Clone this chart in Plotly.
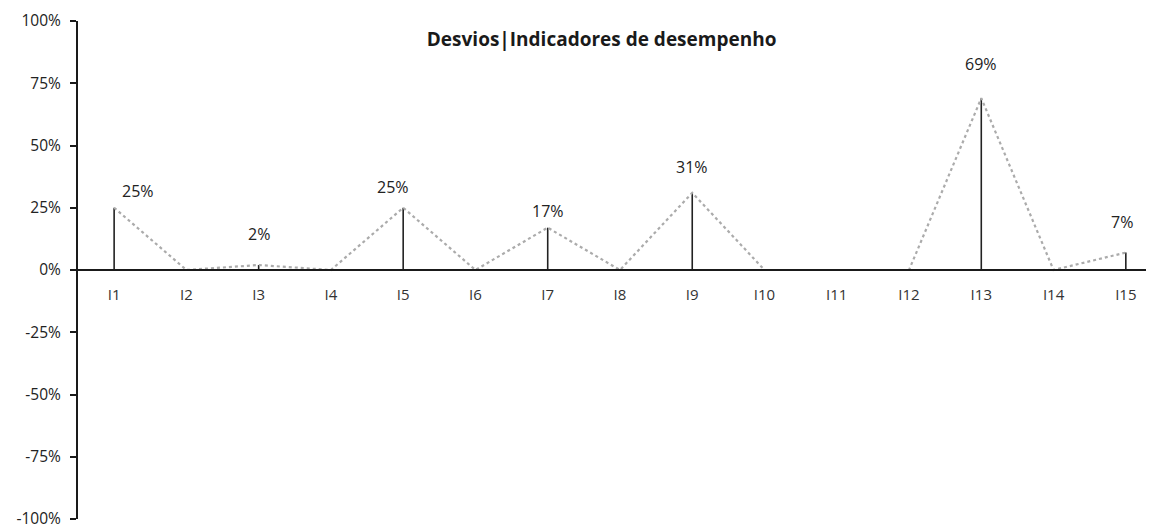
import plotly.graph_objects as go

categories = ["I1", "I2", "I3", "I4", "I5", "I6", "I7", "I8", "I9", "I10",
              "I11", "I12", "I13", "I14", "I15"]
values = [0.25, 0.0, 0.02, 0.0, 0.25, 0.0, 0.17, 0.0, 0.31, 0.0,
          0.0, 0.0, 0.69, 0.0, 0.07]
y_ticks = [-1.0, -0.75, -0.5, -0.25, 0.0, 0.25, 0.5, 0.75, 1.0]
y_tick_labels = ["-100%", "-75%", "-50%", "-25%", "0%", "25%", "50%", "75%", "100%"]
title = "Desvios|Indicadores de desempenho"

# label style offsets (pixels), one per category
label_yshift = [8, 0, 22, 0, 12, 0, 8, 0, 17, 0, 0, 0, 25, 0, 22]
label_xshift = [24, 0, 0, 0, -10, 0, 0, 0, 0, 0, 0, 0, 0, 0, -4]

FONT = "Open Sans"

fig = go.Figure()
fig.add_trace(go.Scatter(
    x=categories, y=values, mode="lines",
    line=dict(color="#ababab", width=2.2, dash="dot"),
    error_y=dict(type="data", symmetric=False,
                 array=[0] * len(values), arrayminus=values,
                 color="#222222", thickness=1.6, width=0),
    hoverinfo="skip", showlegend=False,
))

for c, v, ys, xs in zip(categories, values, label_yshift, label_xshift):
    if v != 0:
        fig.add_annotation(x=c, y=v, xref="x", yref="y",
                           text=f"{round(v * 100)}%", showarrow=False,
                           yanchor="bottom", yshift=ys - 4, xshift=xs,
                           font=dict(family=FONT, size=16, color="#222222"))

fig.update_layout(
    width=1146, height=522,
    margin=dict(l=70, r=0, t=13, b=11, autoexpand=False),
    paper_bgcolor="white", plot_bgcolor="white",
    title=dict(text=f"<b>{title}</b>", x=0.518, xanchor="center",
               y=0.94, yanchor="middle",
               font=dict(family=FONT, size=19, color="#1a1a1a")),
    showlegend=False,
)
fig.update_xaxes(
    type="category", range=[-0.5, 14.39],
    anchor="free", position=0.5, automargin=False,
    showline=True, linecolor="#1a1a1a", linewidth=2,
    showgrid=False, zeroline=False,
    ticks="outside", ticklen=11, tickcolor="rgba(0,0,0,0)",
    tickfont=dict(family=FONT, size=15, color="#333333"),
)
fig.update_yaxes(
    range=[-1, 1], tickvals=y_ticks, ticktext=y_tick_labels,
    automargin=False,
    showline=True, linecolor="#1a1a1a", linewidth=2,
    showgrid=False, zeroline=False,
    ticks="outside", ticklen=6, tickcolor="#1a1a1a", tickwidth=1.5,
    ticklabelstandoff=6, ticklabeloverflow="allow",
    tickfont=dict(family=FONT, size=15.5, color="#222222"),
)

fig.write_html("out.html")
